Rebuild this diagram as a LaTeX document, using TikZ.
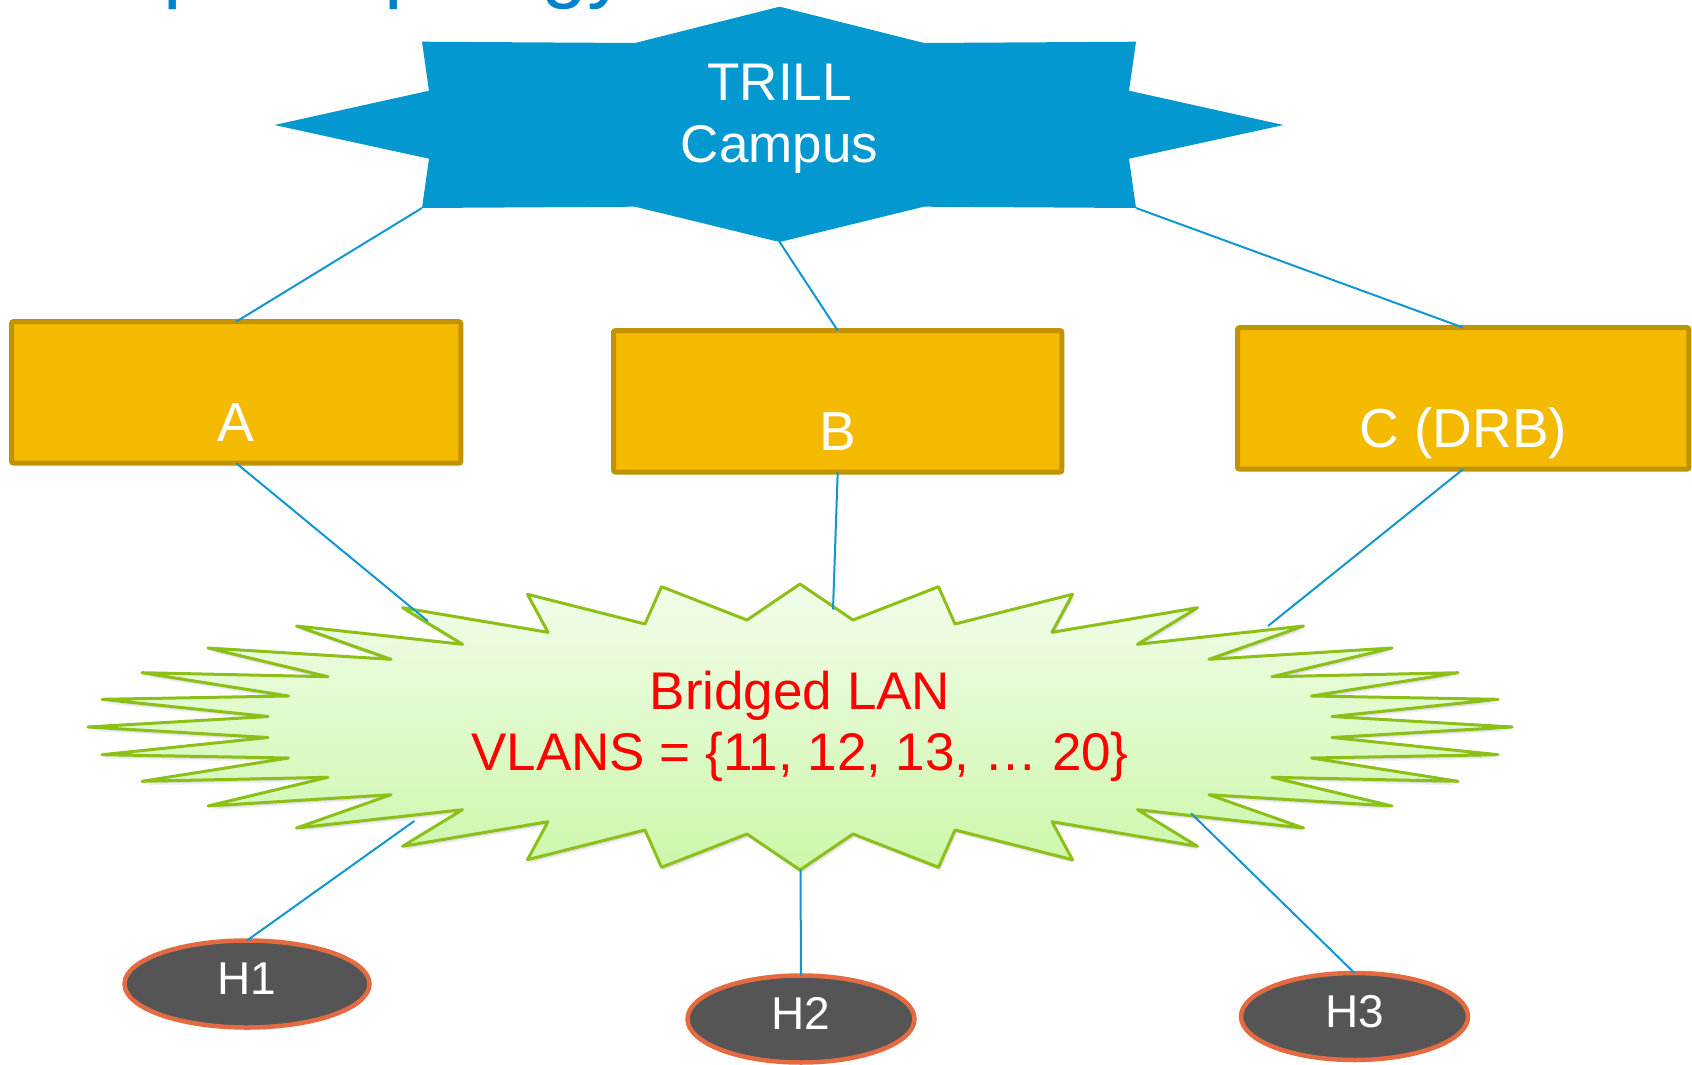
\documentclass[tikz,border=0pt]{standalone}
\usepackage{fontspec}
\setmainfont{Liberation Sans}
\usetikzlibrary{shapes.geometric}
\definecolor{trillblue}{RGB}{3,153,208}
\definecolor{linkblue}{RGB}{16,150,210}
\definecolor{rtrgold}{RGB}{244,186,0}
\definecolor{rtrgolddark}{RGB}{193,147,0}
\definecolor{lanedge}{RGB}{140,192,24}
\definecolor{lantop}{RGB}{241,253,234}
\definecolor{lanbot}{RGB}{205,246,170}
\definecolor{hostfill}{RGB}{85,85,85}
\definecolor{hostedge}{RGB}{228,106,66}
\definecolor{titleblue}{RGB}{0,131,202}
\definecolor{lanred}{RGB}{255,0,0}
\newcommand\lanshape{(0,-143) -- (53,-107) -- (138.5,-140.3) -- (155,-103) -- (272.5,-132.7) -- (252,-94.7) -- (397.5,-119.3) -- (337.5,-82.7) -- (503.5,-101) -- (409,-67.7) -- (592,-79) -- (472,-50.3) -- (658,-54.3) -- (511.5,-31) -- (698,-27.7) -- (532,-10.5) -- (712,0)
 -- (532,10.5) -- (698,27.7) -- (511.5,31) -- (658,54.3) -- (472,50.3) -- (592,79) -- (409,67.7) -- (503.5,101) -- (337.5,82.7) -- (397.5,119.3) -- (252,94.7) -- (272.5,132.7) -- (155,103) -- (138.5,140.3) -- (53,107) -- (0,143)
 -- (-53,107) -- (-138.5,140.3) -- (-155,103) -- (-272.5,132.7) -- (-252,94.7) -- (-397.5,119.3) -- (-337.5,82.7) -- (-503.5,101) -- (-409,67.7) -- (-592,79) -- (-472,50.3) -- (-658,54.3) -- (-511.5,31) -- (-698,27.7) -- (-532,10.5) -- (-712,0)
 -- (-532,-10.5) -- (-698,-27.7) -- (-511.5,-31) -- (-658,-54.3) -- (-472,-50.3) -- (-592,-79) -- (-409,-67.7) -- (-503.5,-101) -- (-337.5,-82.7) -- (-397.5,-119.3) -- (-252,-94.7) -- (-272.5,-132.7) -- (-155,-103) -- (-138.5,-140.3) -- (-53,-107) -- cycle}
\begin{document}
\begin{tikzpicture}[x=1pt,y=-1pt,
  router/.style={draw=rtrgolddark, fill=rtrgold, line width=5pt, rounded corners=2pt,
    inner sep=0pt, outer sep=0pt, text=white, font=\fontsize{55}{60}\selectfont,
    text height=98pt, text depth=0pt, minimum height=141.5pt},
  host/.style={ellipse, draw=hostedge, fill=hostfill, line width=4.5pt, inner sep=0pt,
    outer sep=0pt, text=white, font=\fontsize{46}{50}\selectfont,
    text height=21pt, text depth=0pt, minimum height=87pt},
  link/.style={draw=linkblue, line width=2pt},
  trilltext/.style={text=white, font=\fontsize{53}{60}\selectfont, inner sep=0pt, anchor=base},
  lantext/.style={text=lanred, font=\fontsize{53}{60}\selectfont, inner sep=0pt, anchor=base},
  lanedgestyle/.style={draw=lanedge, line width=3pt, line join=round, top color=lantop, bottom color=lanbot},
]
\useasboundingbox (0,0) rectangle (1692,1065);

% partially visible title
\begin{scope}
  \clip (0,0) rectangle (1692,1065);
  \node[anchor=base west, inner sep=0pt, text=titleblue, font=\fontsize{83}{90}\selectfont] (title) at (20,-7) {Simple Topology};
\end{scope}

% TRILL campus star
\fill[trillblue] (779.6,6.7) -- (924,43) -- (1136,41.7) -- (1129,90.7) -- (1283.5,125) -- (1129,158.7) -- (1136,208) -- (924,206.7) -- (779.6,242) -- (635,206.7) -- (422,208) -- (429,158.7) -- (274.5,125) -- (429,90.7) -- (422,41.7) -- (635,43) -- cycle;
\coordinate (tbl) at (422,208);
\coordinate (tb) at (779.6,242);
\coordinate (tbr) at (1136,208);
\node[trilltext] (trill1) at (779.6,100.7) {TRILL};
\node[trilltext] (trill2) at (779.6,162.7) {Campus};

% Bridged LAN star
\begin{scope}[shift={(800,727)}]
  \foreach \o/\op in {1/0.10, 2.5/0.08, 4/0.06} {
    \fill[black, opacity=\op, shift={(0.5*\o,\o)}] \lanshape;
  }
  \path[lanedgestyle] \lanshape;
\end{scope}
\node[lantext] (lan1) at (800,709) {Bridged LAN};
\node[lantext] (lan2) at (800,770) {VLANS = \{11, 12, 13, … 20\}};

% routers
\node[router, minimum width=449.3pt] (A) at (236.2,392.4) {A};
\node[router, minimum width=448.3pt] (B) at (837.7,401.3) {B};
\node[router, minimum width=451.4pt] (C) at (1463.2,398.4) {C (DRB)};

% hosts
\node[host, minimum width=245pt] (H1) at (247,984) {H1};
\node[host, minimum width=227pt] (H2) at (801,1019) {H2};
\node[host, minimum width=227pt] (H3) at (1354.5,1016.5) {H3};

% free ends inside the LAN cloud
\coordinate (la) at (427.7,621);
\coordinate (lb) at (833,609.5);
\coordinate (lc) at (1268,626);
\coordinate (l1) at (414.3,821);
\coordinate (l2) at (800.5,869);
\coordinate (l3) at (1191,813.3);

% connectors
\draw[link] (tbl) -- (A.north);
\draw[link] (tb) -- (B.north);
\draw[link] (tbr) -- (C.north);
\draw[link] (A.south) -- (la);
\draw[link] (B.south) -- (lb);
\draw[link] (C.south) -- (lc);
\draw[link] (l1) -- (H1.north);
\draw[link] (l2) -- (H2.north);
\draw[link] (l3) -- (H3.north);
\end{tikzpicture}
\end{document}
